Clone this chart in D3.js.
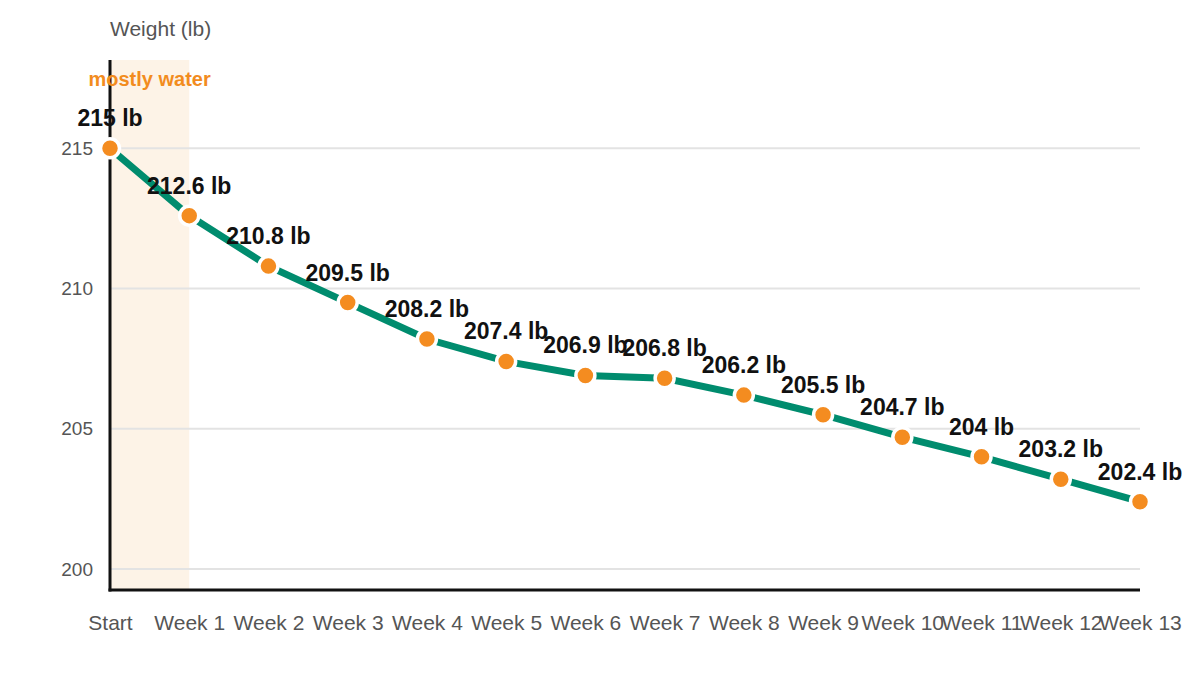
<!DOCTYPE html>
<html><head><meta charset="utf-8">
<script src="https://cdn.jsdelivr.net/npm/d3@7"></script>
<style>body{margin:0;background:#fff;font-family:"Liberation Sans",Arial,sans-serif;}</style>
</head><body><svg id="c" width="1200" height="700"></svg>
<script>
const categories = ["Start","Week 1","Week 2","Week 3","Week 4","Week 5","Week 6","Week 7","Week 8","Week 9","Week 10","Week 11","Week 12","Week 13"];
const weights = [215,212.6,210.8,209.5,208.2,207.4,206.9,206.8,206.2,205.5,204.7,204,203.2,202.4];
const yTicks = [200,205,210,215];
const bandRange = ["Start","Week 1"];
const bandLabel = "mostly water";
const yTitle = "Weight (lb)";

const svg = d3.select("#c");
const x = d3.scalePoint().domain(categories).range([110,1140]);
const y = d3.scaleLinear().domain([199.25,218.15]).range([590,60]);

// band
svg.append("rect").attr("x",x(bandRange[0])).attr("y",60)
  .attr("width",x(bandRange[1])-x(bandRange[0])).attr("height",530).attr("fill","#fdf3e7");

// grid
svg.append("g").selectAll("line").data(yTicks).join("line")
  .attr("x1",110).attr("x2",1140).attr("y1",d=>y(d)).attr("y2",d=>y(d))
  .attr("stroke","#e3e3e3").attr("stroke-width",2);

// y axis
const ya = svg.append("g").attr("transform","translate(110,0)")
  .call(d3.axisLeft(y).tickValues(yTicks).tickSize(0).tickPadding(17));
ya.select(".domain").remove();
ya.selectAll("text").attr("font-size",19).attr("fill","#555").attr("font-family","Liberation Sans, Arial, sans-serif");

// x axis
const xa = svg.append("g").attr("transform","translate(0,590)")
  .call(d3.axisBottom(x).tickSize(0).tickPadding(25));
xa.select(".domain").remove();
xa.selectAll("text").attr("font-size",21).attr("fill","#555").attr("font-family","Liberation Sans, Arial, sans-serif");

// axis lines
svg.append("line").attr("x1",110).attr("x2",110).attr("y1",60).attr("y2",591.5).attr("stroke","#111").attr("stroke-width",3);
svg.append("line").attr("x1",108.5).attr("x2",1140).attr("y1",590).attr("y2",590).attr("stroke","#111").attr("stroke-width",3);

svg.append("text").attr("x",110).attr("y",36).attr("font-size",21).attr("fill","#555").text(yTitle);
svg.append("text").attr("x",(x(bandRange[0])+x(bandRange[1]))/2).attr("y",86).attr("text-anchor","middle")
  .attr("font-size",20).attr("font-weight","bold").attr("fill","#f28c1e").text(bandLabel);

// line
svg.append("path").datum(weights)
  .attr("d",d3.line().x((d,i)=>x(categories[i])).y(d=>y(d)))
  .attr("fill","none").attr("stroke","#008c6e").attr("stroke-width",7);

svg.append("g").selectAll("circle").data(weights).join("circle")
  .attr("cx",(d,i)=>x(categories[i])).attr("cy",d=>y(d)).attr("r",9.5)
  .attr("fill","#f48c20").attr("stroke","#fff").attr("stroke-width",3.5);

svg.append("g").selectAll("text").data(weights).join("text")
  .attr("x",(d,i)=>x(categories[i])).attr("y",d=>y(d)-22).attr("text-anchor","middle")
  .attr("font-size",23).attr("font-weight","bold").attr("fill","#111")
  .text(d=>d+" lb");
</script></body></html>
